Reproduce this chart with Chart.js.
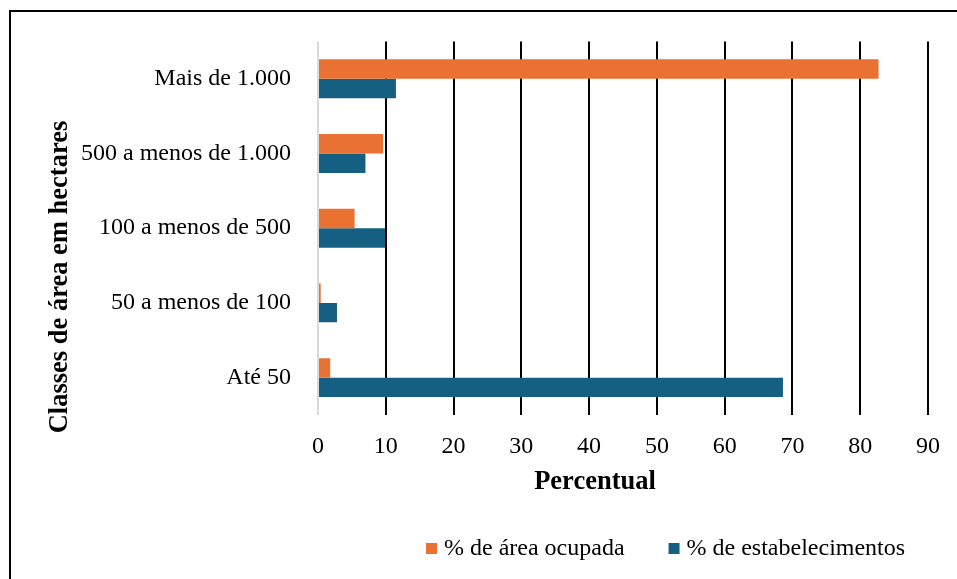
<!DOCTYPE html>
<html>
<head>
<meta charset="utf-8">
<script src="https://cdn.jsdelivr.net/npm/chart.js@4.4.0/dist/chart.umd.min.js"></script>
<style>
    html, body { margin: 0; padding: 0; background: #fff; overflow: hidden; }
    #wrap { width: 957px; height: 579px; position: relative; }
</style>
</head>
<body>
<div id="wrap"><canvas id="chart"></canvas></div>
<script>
const classes = ["Mais de 1.000", "500 a menos de 1.000", "100 a menos de 500", "50 a menos de 100", "Até 50"];
const areaOcupada = [82.7, 9.6, 5.4, 0.4, 1.8];
const estabelecimentos = [11.5, 7.0, 9.9, 2.8, 68.6];
const seriesNames = ["% de área ocupada", "% de estabelecimentos"];
const xMin = 0;
const xMax = 90;
const xStep = 10;
const xTitle = "Percentual";
const yTitle = "Classes de área em hectares";

const serif = "'Liberation Serif', 'Times New Roman', serif";

// titles, legend and the outer frame are drawn by hand to sit where the original has them
const extras = {
    id: "extras",
    beforeDraw(chart) {
        const ctx = chart.ctx;
        ctx.save();
        ctx.strokeStyle = "#000";
        ctx.lineWidth = 2;
        ctx.beginPath();
        ctx.moveTo(10, 579);
        ctx.lineTo(10, 11);
        ctx.lineTo(957, 11);
        ctx.stroke();
        ctx.restore();
    },
    afterDraw(chart) {
        const ctx = chart.ctx;
        ctx.save();
        ctx.fillStyle = "#000";
        ctx.font = "bold 26.5px " + serif;
        ctx.textAlign = "center";
        ctx.textBaseline = "middle";
        ctx.fillText(xTitle, 595, 482);
        ctx.save();
        ctx.translate(60, 277);
        ctx.rotate(-Math.PI / 2);
        ctx.fillText(yTitle, 0, 0);
        ctx.restore();

        // legend
        ctx.font = "24px " + serif;
        ctx.textAlign = "left";
        let x = 426;
        chart.data.datasets.forEach((ds) => {
            ctx.fillStyle = ds.backgroundColor;
            ctx.fillRect(x, 543, 11, 11);
            ctx.fillStyle = "#000";
            ctx.fillText(ds.label, x + 18, 549);
            x += 18 + ctx.measureText(ds.label).width + 44;
        });
        ctx.restore();
    }
};

new Chart(document.getElementById("chart").getContext("2d"), {
    type: "bar",
    data: {
        labels: classes,
        datasets: [
            {
                label: seriesNames[0],
                data: areaOcupada,
                backgroundColor: "#E97132",
                borderWidth: 0,
                categoryPercentage: 0.52,
                barPercentage: 1
            },
            {
                label: seriesNames[1],
                data: estabelecimentos,
                backgroundColor: "#156082",
                borderWidth: 0,
                categoryPercentage: 0.52,
                barPercentage: 1
            }
        ]
    },
    options: {
        indexAxis: "y",
        responsive: true,
        maintainAspectRatio: false,
        animation: false,
        layout: { padding: { top: 40, right: 28, bottom: 0, left: 0 } },
        plugins: {
            legend: { display: false },
            tooltip: { enabled: false }
        },
        scales: {
            x: {
                min: xMin,
                max: xMax,
                ticks: {
                    stepSize: xStep,
                    color: "#000",
                    padding: 17,
                    font: { family: serif, size: 24 }
                },
                grid: {
                    drawTicks: false,
                    lineWidth: 2,
                    color: (ctx) => (ctx.index === 0 ? "#d9d9d9" : "#000")
                },
                border: { display: false },
                afterFit: (scale) => { scale.height = 164; }
            },
            y: {
                ticks: {
                    color: "#000",
                    padding: 27,
                    font: { family: serif, size: 24 }
                },
                grid: { display: false, drawTicks: false },
                border: { display: false },
                afterFit: (scale) => { scale.width = 318; }
            }
        }
    },
    plugins: [extras]
});
</script>
</body>
</html>
